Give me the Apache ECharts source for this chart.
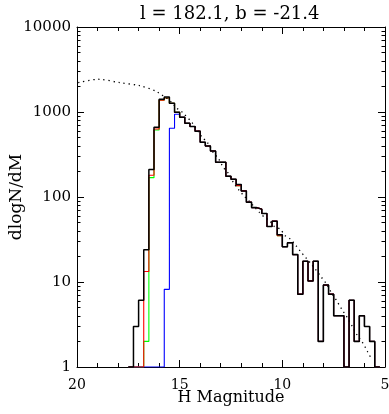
<!DOCTYPE html>
<html>
<head>
<meta charset="utf-8">
<style>html,body{margin:0;padding:0;background:#fff;}#c{width:389px;height:414px;}</style>
<script src="https://cdn.jsdelivr.net/npm/echarts@6/dist/echarts.min.js"></script>
</head>
<body>
<div id="c"></div>
<script>
// ---- data ----
const titleText = 'l = 182.1, b = -21.4';
const xTickValues = [20, 15, 10, 5];
const yTickLabels = ['1', '10', '100', '1000', '10000'];
const yMinorTicks = [2,3,4,5,6,7,8,9,20,30,40,50,60,70,80,90,200,300,400,500,600,700,800,900,2000,3000,4000,5000,6000,7000,8000,9000];
// bin edges (H magnitude), 49 bins of 0.25 mag
const binEdges = [17.5,17.25,17,16.75,16.5,16.25,16,15.75,15.5,15.25,15,14.75,14.5,14.25,14,13.75,13.5,13.25,13,12.75,12.5,12.25,12,11.75,11.5,11.25,11,10.75,10.5,10.25,10,9.75,9.5,9.25,9,8.75,8.5,8.25,8,7.75,7.5,7.25,7,6.75,6.5,6.25,6,5.75,5.5,5.25];
const blackCounts = [0,3.0,6.1,24,211,661,1410,1500,1265,991,865,736,675,595,440,398,348,256,256,175,162,140,118,87,75,72,64,45,52,36,26,29,21,7.2,17.5,10.3,17.5,2.0,9.2,7.2,4.0,4.0,0,6.1,2.0,4.0,3.0,2.0,0];
const redCounts   = [0,0,0,13.3,180,631,1380,1460,1265,991,865,736,675,595,440,398,348,256,256,175,162,136,118,87,75,72,64,45,52,35,26,29,21,7.2,17.5,10.3,17.5,2.0,9.2,7.2,4.0,4.0,0,6.1,2.0,4.0,3.0,2.0,0];
const greenCounts = [0,0,0,2.0,169,614,1380,1460,1265,991,865,736,675,595,440,398,348,256,256,175,162,136,118,87,75,72,64,45,52,35,26,29,21,7.2,17.5,10.3,17.5,2.0,9.2,7.2,4.0,4.0,0,6.1,2.0,4.0,3.0,2.0,0];
const blueCounts  = [0,0,0,0,0,0,0,8.2,643,940,865,736,675,595,440,398,348,256,256,175,162,140,118,87,75,72,64,45,52,36,26,29,21,7.2,17.5,10.3,17.5,2.0,9.2,7.2,4.0,4.0,0,6.1,2.0,4.0,3.0,2.0,0];
// model (dotted) curve
const modelMag = [19.94,18.96,17.91,16.93,16.12,15.42,15.14,14.87,14.37,13.90,13.65,13.38,13.12,12.87,12.63,12.39,12.14,11.90,11.61,11.37,11.12,10.88,10.63,10.39,10.11,9.86,9.61,9.35,9.12,8.87,8.62,8.35,8.10,7.84,7.60,7.37,7.11,6.85,6.59,6.35,6.10,5.86,5.62];
const modelVal = [2213,2427,2213,2037,1734,1321,1107,991,736,504,438,338,285,223,190,149,123,105,89,77,66,58,53,45,42,35,32,27,23,19.5,16.6,13.7,11.4,9.4,7.4,6.1,4.8,3.85,3.0,2.36,1.95,1.53,1.2];

// ---- build ----
const FONT = 'DejaVu Serif';
function stepData(counts) {
  const pts = [];
  for (let i = 0; i < counts.length; i++) {
    pts.push([binEdges[i], counts[i] > 0 ? counts[i] : 1]);
  }
  pts.push([binEdges[counts.length], counts[counts.length - 1] > 0 ? counts[counts.length - 1] : 1]);
  return pts;
}
function histSeries(name, counts, color, width) {
  return {
    name, type: 'line', step: 'end', data: stepData(counts),
    showSymbol: false, symbol: 'none', animation: false,
    lineStyle: { color, width }, xAxisIndex: 0, yAxisIndex: 0
  };
}
const xBase = {
  type: 'value', min: 5, max: 20, interval: 5, inverse: true,
  axisLine: { show: true, lineStyle: { color: '#000', width: 1 } },
  axisTick: { show: true, inside: true, length: 7, lineStyle: { color: '#000' } },
  minorTick: { show: true, splitNumber: 5, length: 4, lineStyle: { color: '#000' } },
  splitLine: { show: false }, minorSplitLine: { show: false }
};
const yBase = {
  type: 'log', logBase: 10, min: 1, max: 10000,
  axisLine: { show: true, lineStyle: { color: '#000', width: 1 } },
  axisTick: { show: true, inside: true, length: 7, lineStyle: { color: '#000' } },
  splitLine: { show: false }
};
const yMinor = {
  type: 'log', logBase: 10, min: 1, max: 10000,
  axisLine: { show: false },
  axisTick: { show: true, inside: true, length: 3.5, customValues: yMinorTicks, lineStyle: { color: '#000' } },
  axisLabel: { show: false }, splitLine: { show: false }
};

const chart = echarts.init(document.getElementById('c'), null, { renderer: 'canvas' });
chart.setOption({
  backgroundColor: '#fff',
  animation: false,
  title: {
    text: titleText, left: 135, top: 0,
    textStyle: { fontFamily: FONT, fontSize: 18, fontWeight: 'normal', color: '#000' }
  },
  grid: { left: 77, right: 4, top: 27, bottom: 47, containLabel: false, outerBoundsMode: 'none' },
  xAxis: [
    Object.assign({}, xBase, {
      position: 'bottom',
      axisLabel: { show: true, margin: 11, color: '#000', fontFamily: FONT, fontSize: 14,
        customValues: xTickValues },
      name: 'H Magnitude', nameLocation: 'middle', nameGap: 23, nameMoveOverlap: false,
      nameTextStyle: { fontFamily: FONT, fontSize: 16, color: '#000' }
    }),
    Object.assign({}, xBase, { position: 'top', axisLabel: { show: false } })
  ],
  yAxis: [
    Object.assign({}, yBase, {
      position: 'left',
      axisLabel: { show: true, margin: 6, color: '#000', fontFamily: FONT, fontSize: 15,
        formatter: v => yTickLabels[Math.round(Math.log10(v))] },
      name: 'dlogN/dM', nameLocation: 'middle', nameGap: 52, nameMoveOverlap: false,
      nameTextStyle: { fontFamily: FONT, fontSize: 17, color: '#000' }
    }),
    Object.assign({}, yMinor, { position: 'left' }),
    Object.assign({}, yBase, { position: 'right', axisLabel: { show: false } }),
    Object.assign({}, yMinor, { position: 'right' })
  ],
  series: [
    histSeries('green', greenCounts, '#00ff00', 1.1),
    histSeries('blue', blueCounts, '#0000ff', 1.1),
    histSeries('red', redCounts, '#ff0000', 1.1),
    histSeries('total', blackCounts, '#000000', 1.5),
    {
      name: 'model', type: 'line', smooth: 0.3, showSymbol: false, symbol: 'none',
      data: modelMag.map((m, i) => [m, modelVal[i]]),
      lineStyle: { color: '#000', width: 1.3, type: [1.3, 3.8] },
      xAxisIndex: 0, yAxisIndex: 0, z: 3
    }
  ]
});
</script>
</body>
</html>
